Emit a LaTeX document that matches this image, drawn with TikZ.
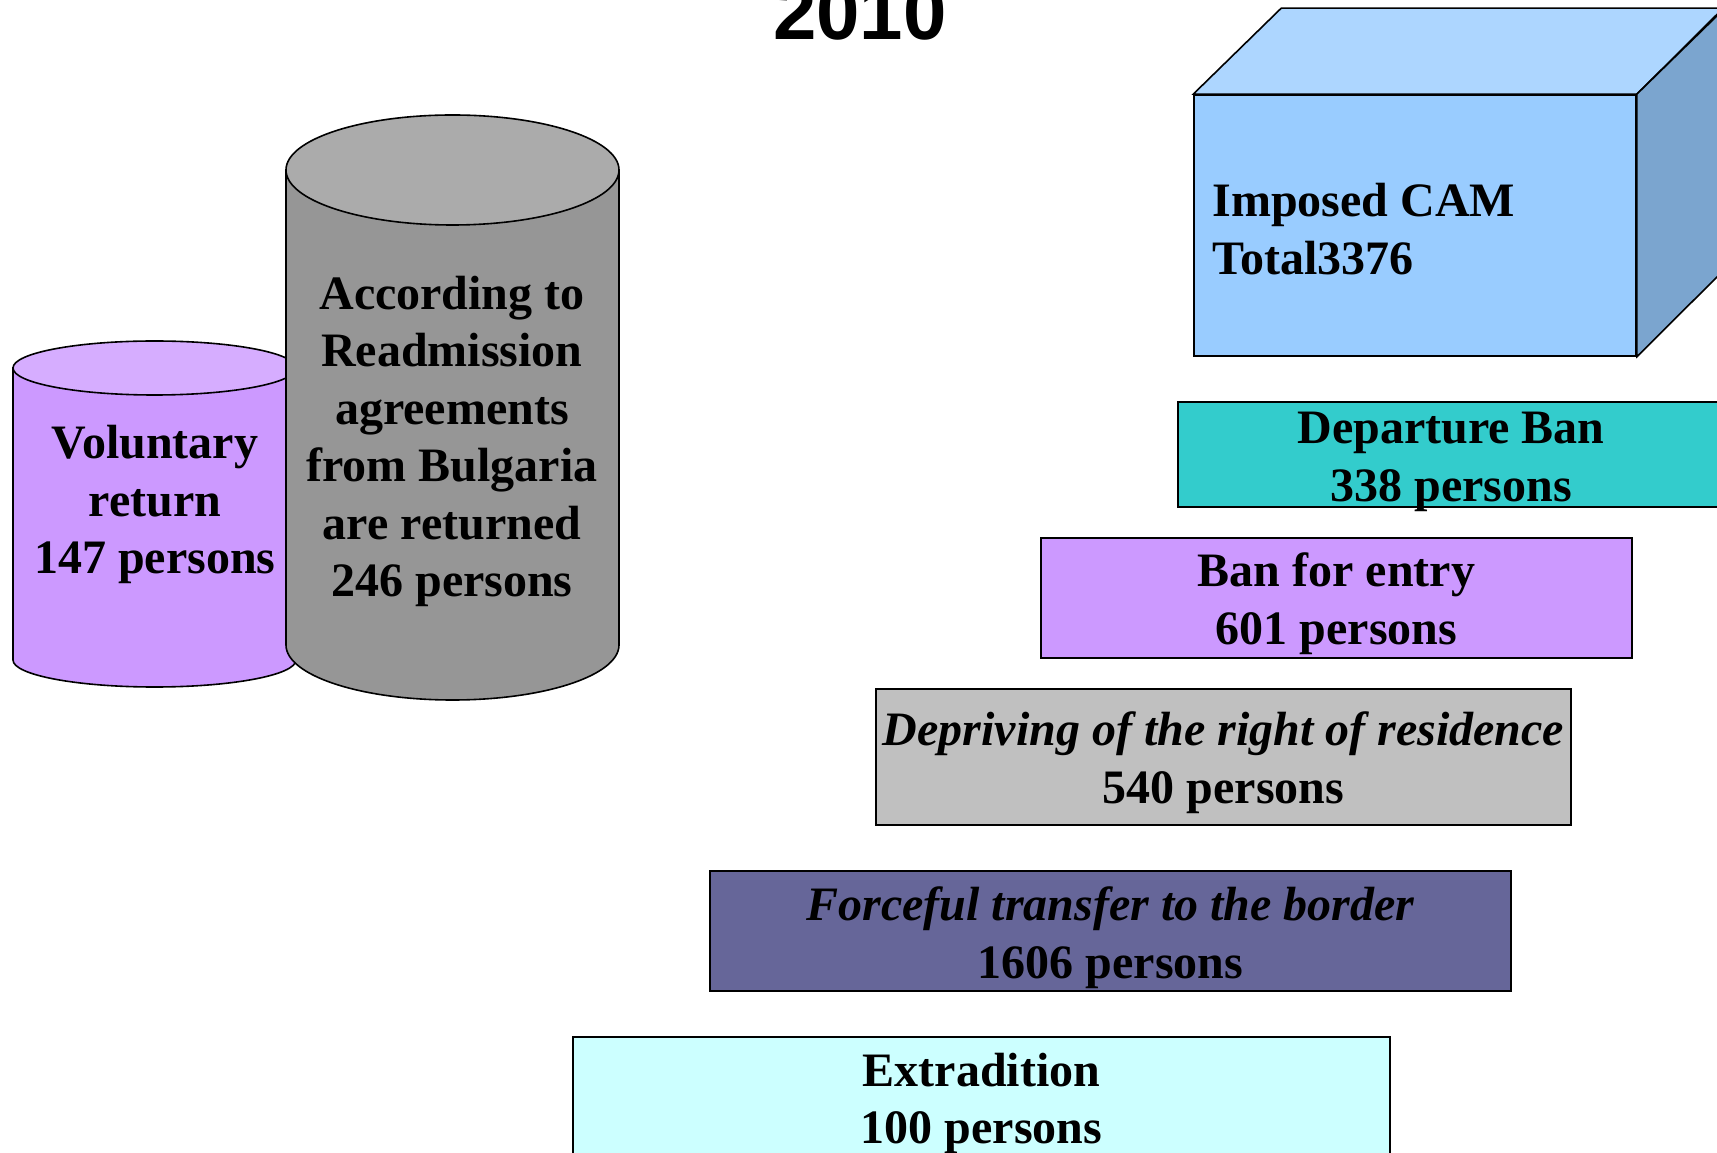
\documentclass[tikz,border=0pt]{standalone}
\usepackage{fontspec}
\setmainfont{Liberation Serif}
\newfontfamily\titlefont{Liberation Sans}
\definecolor{cylpurp}{HTML}{CC99FF}
\definecolor{cylpurptop}{HTML}{D6ADFF}
\definecolor{cylgray}{HTML}{969696}
\definecolor{cylgraytop}{HTML}{ABABAB}
\definecolor{cubefront}{HTML}{99CCFF}
\definecolor{cubetop}{HTML}{ADD6FF}
\definecolor{cubeside}{HTML}{7BA5CF}
\definecolor{departc}{HTML}{33CCCC}
\definecolor{banc}{HTML}{CC99FF}
\definecolor{deprivc}{HTML}{C0C0C0}
\definecolor{forcec}{HTML}{666699}
\definecolor{extradc}{HTML}{CCFFFF}
\begin{document}
\begin{tikzpicture}[x=0.5pt,y=0.5pt,
  outl/.style={draw=black, line width=0.8pt},
  lbl/.style={font=\fontsize{24}{28.75}\selectfont\bfseries, align=center, inner sep=0pt},
  barbox/.style={outl, rectangle, inner sep=0pt}]
\path[use as bounding box] (0,0) rectangle (1717,1152);
\clip (0,0) rectangle (1717,1152);
\fill[white] (0,0) rectangle (1717,1152);

% title
\node[font=\titlefont\fontsize{39}{45}\selectfont\bfseries, anchor=base, inner sep=0pt] (title) at (860,1112) {2010};

% purple cylinder
\filldraw[outl, fill=cylpurp] (296,784) -- (296,492) arc[start angle=0, end angle=-180, x radius=141.5, y radius=27] -- (13,784) -- cycle;
\filldraw[outl, fill=cylpurptop] (154.5,784) ellipse[x radius=141.5, y radius=27];
% gray cylinder
\filldraw[outl, fill=cylgray] (619,982) -- (619,507) arc[start angle=0, end angle=-180, x radius=166.5, y radius=55] -- (286,982) -- cycle;
\filldraw[outl, fill=cylgraytop] (452.5,982) ellipse[x radius=166.5, y radius=55];

\node[lbl] (vol) at (155,647.5) {Voluntary\\return\\147 persons};
\node[lbl] (readm) at (452,710.5) {According to\\Readmission\\agreements\\from Bulgaria\\are returned\\246 persons};

% cube
\node[outl, rectangle, fill=cubefront, minimum width=221pt, minimum height=130.5pt] (cam) at (1415,926.5) {};
\node[lbl, align=left, anchor=west] (camtxt) at ([xshift=9.5pt, yshift=-1.75pt]cam.west) {Imposed CAM\\Total3376};
\filldraw[outl, fill=cubetop] (cam.north west) -- ++(88,86) -- ++(442,0) -- (cam.north east) -- cycle;
\filldraw[outl, fill=cubeside] (cam.north east) -- ++(88,86) -- ++(0,-261) -- (cam.south east) -- cycle;

% bars
\node[barbox, fill=departc, minimum width=273pt, minimum height=52.5pt] (dep) at (1451,697.5) {};
\node[lbl] (deptxt) at ([yshift=-3.75pt]dep.center) {Departure Ban\\338 persons};
\node[barbox, fill=banc, minimum width=295.5pt, minimum height=60pt] (ban) at (1336.5,554) {};
\node[lbl] (bantxt) at ([yshift=-2.75pt]ban.center) {Ban for entry\\601 persons};
\node[barbox, fill=deprivc, minimum width=347.5pt, minimum height=68pt] (depr) at (1223.5,395) {};
\node[lbl] (deprtxt) at ([yshift=-2.75pt]depr.center) {{\itshape Depriving of the right of residence}\\540 persons};
\node[barbox, fill=forcec, minimum width=400.5pt, minimum height=60pt] (force) at (1110.5,221) {};
\node[lbl] (forcetxt) at ([yshift=-3.25pt]force.center) {{\itshape Forceful transfer to the border}\\1606 persons};
\node[barbox, fill=extradc, minimum width=408.5pt, minimum height=62pt] (extr) at (981.5,53) {};
\node[lbl] (extrtxt) at ([yshift=-2.25pt]extr.center) {Extradition\\100 persons};
\end{tikzpicture}
\end{document}
